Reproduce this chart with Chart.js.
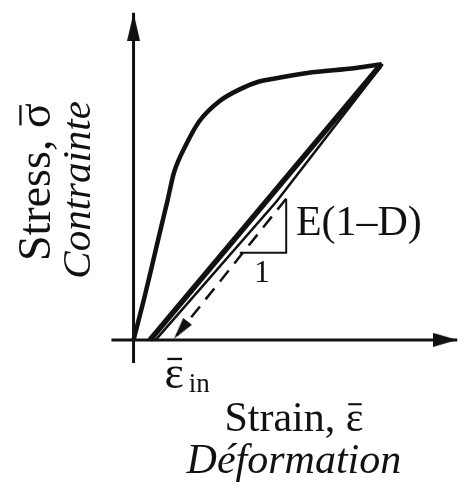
<!DOCTYPE html>
<html>
<head>
<meta charset="utf-8">
<script src="https://cdn.jsdelivr.net/npm/chart.js@4/dist/chart.umd.min.js"></script>
<style>
  html, body { margin: 0; padding: 0; background: #fff; }
  #canva { width: 468px; height: 494px; }
  #warm { position: absolute; left: -2000px; top: 0; font-family: "Liberation Serif"; font-size: 40px; }
</style>
</head>
<body>
<div id="warm">Stress, σ ε <i>Contrainte Déformation</i></div>
<div id="canva"><canvas id="myChart"></canvas></div>
<script>
// strain / stress, normalised so the peak of the loading curve is (1, 1)
const loadStrain = [0, 0.043, 0.074, 0.105, 0.136, 0.163, 0.214, 0.265, 0.342, 0.436, 0.506, 0.564, 0.700, 0.895, 1];
const loadStress = [0, 0.151, 0.267, 0.386, 0.502, 0.607, 0.712, 0.793, 0.863, 0.912, 0.937, 0.947, 0.968, 0.986, 1];

// unloading, thick
const unloadStrain = [0.066, 0.992];
const unloadStress = [0, 0.993];

// thin companion line
const pairStrain = [0.089, 0.576, 1.004];
const pairStress = [0, 0.502, 1];

// dashed unloading to the inelastic strain
const dashStrain = [0.615, 0.163];
const dashStress = [0.512, 0.004];

const slopeStrain = [0.615, 0.615, 0.428];
const slopeStress = [0.512, 0.316, 0.316];

const xAxisStrain = [-0.089, 1.304];
const yAxisStress = [-0.084, 1.186];

const ink = '#111';
const serif = '"Liberation Serif", serif';

function pts(xs, ys) {
  let out = [];
  for (let i = 0; i < xs.length; i++) {
    out.push({x: xs[i], y: ys[i]});
  }
  return out;
}

// arrow head image, tip at the centre of the canvas, pointing up
function makeArrow(len, wid) {
  let c = document.createElement('canvas');
  c.width = wid;
  c.height = len * 2;
  let g = c.getContext('2d');
  g.fillStyle = ink;
  g.beginPath();
  g.moveTo(wid / 2, len);
  g.lineTo(wid, len * 2);
  g.lineTo(0, len * 2);
  g.closePath();
  g.fill();
  return c;
}

function tipOptions(n, arrow, angle) {
  let styles = [], radius = [], rot = [];
  for (let i = 0; i < n; i++) {
    styles.push(i == n - 1 ? arrow : 'circle');
    radius.push(i == n - 1 ? 5 : 0);
    rot.push(i == n - 1 ? angle : 0);
  }
  return {pointStyle: styles, pointRadius: radius, pointRotation: rot};
}

// text with a bar over its last character, drawn from its left edge
function barText(ctx, txt, x0, y0, size) {
  ctx.textAlign = 'left';
  ctx.fillText(txt, x0, y0);
  let w1 = ctx.measureText(txt.slice(0, -1)).width;
  let w2 = ctx.measureText(txt.slice(-1)).width;
  ctx.fillRect(x0 + w1 + size * 0.06, y0 - size * 0.66, w2 - size * 0.1, Math.max(2, size * 0.05));
}

const yArrow = makeArrow(28, 13);
const xArrow = makeArrow(24, 14);
const dArrow = makeArrow(22, 11);

const labels = {
  id: 'labels',
  afterDatasetsDraw(chart) {
    const ctx = chart.ctx;
    const x = chart.scales.x, y = chart.scales.y;
    ctx.save();
    ctx.fillStyle = ink;
    ctx.textBaseline = 'alphabetic';

    ctx.textAlign = 'left';
    ctx.font = '42px ' + serif;
    ctx.fillText('E(1\u2013D)', x.getPixelForValue(0.654), y.getPixelForValue(0.379));

    ctx.textAlign = 'center';
    ctx.font = '32px ' + serif;
    ctx.fillText('1', x.getPixelForValue(0.518), y.getPixelForValue(0.211));

    ctx.font = '46px ' + serif;
    barText(ctx, '\u03B5', x.getPixelForValue(0.125), y.getPixelForValue(-0.175), 46);
    ctx.font = '27px ' + serif;
    ctx.textAlign = 'left';
    ctx.fillText('in', x.getPixelForValue(0.222), y.getPixelForValue(-0.19));

    ctx.font = '42px ' + serif;
    let s1 = 'Strain, \u03B5';
    let w = ctx.measureText(s1).width;
    barText(ctx, s1, x.getPixelForValue(0.646) - w / 2, y.getPixelForValue(-0.330), 42);

    ctx.textAlign = 'center';
    ctx.font = 'italic 42px ' + serif;
    ctx.fillText('D\u00E9formation', x.getPixelForValue(0.646), y.getPixelForValue(-0.481));

    ctx.save();
    ctx.translate(x.getPixelForValue(-0.338), y.getPixelForValue(0.572));
    ctx.rotate(-Math.PI / 2);
    ctx.font = '46px ' + serif;
    let s2 = 'Stress, \u03C3';
    barText(ctx, s2, -ctx.measureText(s2).width / 2, 0, 46);
    ctx.restore();

    ctx.save();
    ctx.translate(x.getPixelForValue(-0.175), y.getPixelForValue(0.544));
    ctx.rotate(-Math.PI / 2);
    ctx.textAlign = 'center';
    ctx.font = 'italic 41px ' + serif;
    ctx.fillText('Contrainte', 0, 0);
    ctx.restore();

    ctx.restore();
  }
};

const lineBase = {showLine: true, borderColor: ink, backgroundColor: ink, fill: false, pointRadius: 0};

function draw() {
  new Chart(document.getElementById('myChart'), {
    type: 'scatter',
    data: {
      datasets: [
        Object.assign({}, lineBase, {data: pts(xAxisStrain, [0, 0]), borderWidth: 3}, tipOptions(2, xArrow, 90)),
        Object.assign({}, lineBase, {data: pts([0, 0], yAxisStress), borderWidth: 3}, tipOptions(2, yArrow, 0)),
        Object.assign({}, lineBase, {data: pts(loadStrain, loadStress), borderWidth: 4.5, cubicInterpolationMode: 'monotone'}),
        Object.assign({}, lineBase, {data: pts(unloadStrain, unloadStress), borderWidth: 5.5}),
        Object.assign({}, lineBase, {data: pts(pairStrain, pairStress), borderWidth: 2.5}),
        Object.assign({}, lineBase, {data: pts(dashStrain, dashStress), borderWidth: 2.5, borderDash: [14, 9]}, tipOptions(2, dArrow, 218)),
        Object.assign({}, lineBase, {data: pts(slopeStrain, slopeStress), borderWidth: 2})
      ]
    },
    options: {
      responsive: true,
      maintainAspectRatio: false,
      animation: false,
      events: [],
      layout: {padding: 0},
      plugins: {legend: {display: false}, tooltip: {enabled: false}},
      scales: {
        x: {type: 'linear', display: false, min: -0.5058, max: 1.3152},
        y: {type: 'linear', display: false, min: -0.5298, max: 1.2035}
      }
    },
    plugins: [labels]
  });
}

document.fonts.ready.then(draw, draw);
</script>
</body>
</html>
